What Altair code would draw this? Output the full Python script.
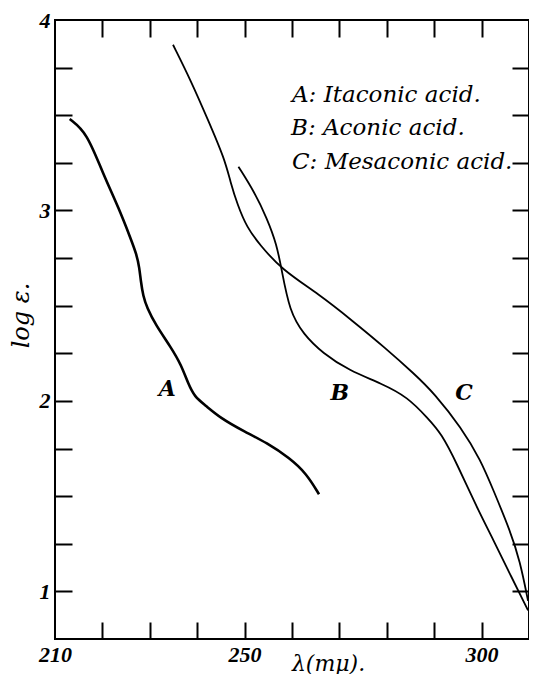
import altair as alt
import pandas as pd

# Curve A: Itaconic acid
A_x = [213.1, 216.7, 220.0, 223.5, 226.0, 227.2, 227.8, 228.1, 228.6, 229.4, 231.2, 234.5,
       236.6, 238.1, 239.5, 241.6, 244.9, 249.9, 254.7, 259.5, 263.0, 265.7]
A_y = [3.48, 3.41, 3.20, 3.01, 2.85, 2.77, 2.70, 2.63, 2.55, 2.49, 2.40, 2.28,
       2.19, 2.09, 2.02, 1.98, 1.91, 1.84, 1.78, 1.70, 1.62, 1.51]

# Curve B: Aconic acid
B_x = [248.7, 252.0, 254.7, 256.8, 257.8, 259.5, 262.4, 266.5, 272.0, 279.0,
       284.4, 288.6, 291.5, 294.8, 299.0, 302.5, 306.0, 309.8]
B_y = [3.23, 3.10, 2.96, 2.82, 2.69, 2.47, 2.35, 2.25, 2.16, 2.09,
       2.02, 1.91, 1.83, 1.67, 1.44, 1.27, 1.09, 0.90]

# Curve C: Mesaconic acid
C_x = [234.9, 238.7, 242.2, 245.8, 247.0, 248.5, 250.5, 253.2, 257.8, 265.7,
       272.8, 279.6, 285.9, 290.0, 295.7, 299.8, 302.5, 306.0, 308.1, 309.8]
C_y = [3.87, 3.68, 3.48, 3.27, 3.15, 3.03, 2.91, 2.82, 2.69, 2.56,
       2.42, 2.28, 2.14, 2.04, 1.86, 1.69, 1.53, 1.32, 1.16, 0.95]

series_names = ["A", "B", "C"]
legend_texts = ["A: Itaconic acid.", "B: Aconic acid.", "C: Mesaconic acid."]

x_label_values = [210, 250, 300]
x_tick_values = [220, 230, 240, 250, 260, 270, 280, 290, 300]
y_label_values = [1, 2, 3, 4]
y_tick_values = [1.0, 1.25, 1.5, 1.75, 2.0, 2.25, 2.5, 2.75, 3.0, 3.25, 3.5, 3.75]


def curve_frame(names, xs_list, ys_list):
    rows = []
    for name, xs_, ys_ in zip(names, xs_list, ys_list):
        for i, (a, b) in enumerate(zip(xs_, ys_)):
            rows.append({"series": name, "x": a, "y": b, "order": i})
    return pd.DataFrame(rows)


df_a = curve_frame(["A"], [A_x], [A_y])
df_bc = curve_frame(["B", "C"], [B_x, C_x], [B_y, C_y])
df_all = pd.concat([df_a, df_bc], ignore_index=True)

# annotation placement (data coordinates)
legend_df = pd.DataFrame({"label": legend_texts,
                          "x": [260.0, 259.8, 260.0],
                          "y": [3.571, 3.398, 3.220]})
curve_lbl_df = pd.DataFrame({"label": series_names,
                             "x": [233.7, 270.1, 296.3],
                             "y": [2.06, 2.04, 2.04]})

W, H = 474, 619
xsc = alt.Scale(domain=[210, 310], nice=False, zero=False)
ysc = alt.Scale(domain=[0.75, 4], nice=False, zero=False)

SERIF = "DejaVu Serif"
NUM = "Liberation Serif"

line_a = alt.Chart(df_a).mark_line(color="black", interpolate="basis", strokeWidth=2.6).encode(
    x=alt.X("x:Q", scale=xsc, axis=alt.Axis(
        orient="bottom", values=x_label_values, tickSize=0, domain=False, grid=False,
        labelFlush=False, labelFont=NUM, labelFontSize=22, labelFontStyle="italic",
        labelFontWeight="bold", labelColor="black", labelPadding=5,
        title="λ(mμ).", titleFont=SERIF, titleFontSize=22, titleFontStyle="italic",
        titleFontWeight="normal", titleColor="black", titleX=273, titleY=31,
        titleBaseline="alphabetic", titleAlign="center")),
    y=alt.Y("y:Q", scale=ysc, axis=alt.Axis(
        orient="left", values=y_label_values, tickSize=0, domain=False, grid=False,
        labelFont=NUM, labelFontSize=22, labelFontStyle="italic",
        labelFontWeight="bold", labelColor="black", labelPadding=5,
        title="log ε.", titleFont=SERIF, titleFontSize=24, titleFontStyle="italic",
        titleFontWeight="normal", titleColor="black", titleX=-34, titleY=295,
        titleAngle=270, titleAlign="center", titleBaseline="middle")),
    order="order:Q",
)

line_bc = alt.Chart(df_bc).mark_line(color="black", interpolate="basis", strokeWidth=1.8).encode(
    x=alt.X("x:Q", scale=xsc, axis=None),
    y=alt.Y("y:Q", scale=ysc, axis=None),
    detail="series:N",
    order="order:Q",
)

tick_style = dict(labels=False, domain=False, grid=False, tickSize=17, tickWidth=2,
                  tickColor="black", title=None)

ticks_in_a = alt.Chart(df_all).mark_point(opacity=0).encode(
    x=alt.X("x:Q", scale=xsc, axis=alt.Axis(orient="top", offset=-H, values=x_tick_values, **tick_style)),
    y=alt.Y("y:Q", scale=ysc, axis=alt.Axis(orient="right", offset=-W, values=y_tick_values, **tick_style)),
)
ticks_in_b = alt.Chart(df_all).mark_point(opacity=0).encode(
    x=alt.X("x:Q", scale=xsc, axis=alt.Axis(orient="bottom", offset=-H, values=x_tick_values, **tick_style)),
    y=alt.Y("y:Q", scale=ysc, axis=alt.Axis(orient="left", offset=-W, values=y_tick_values, **tick_style)),
)

legend = alt.Chart(legend_df).mark_text(
    align="left", baseline="alphabetic", font=SERIF, fontSize=23, fontStyle="italic", color="black"
).encode(
    x=alt.X("x:Q", scale=xsc, axis=None),
    y=alt.Y("y:Q", scale=ysc, axis=None),
    text="label:N",
)

curve_labels = alt.Chart(curve_lbl_df).mark_text(
    align="center", baseline="middle", font=SERIF, fontSize=22, fontStyle="italic",
    fontWeight="bold", color="black"
).encode(
    x=alt.X("x:Q", scale=xsc, axis=None),
    y=alt.Y("y:Q", scale=ysc, axis=None),
    text="label:N",
)

chart = alt.layer(line_a, line_bc, ticks_in_a, ticks_in_b, legend, curve_labels).resolve_axis(
    x="independent", y="independent"
).properties(
    width=W, height=H,
    autosize=alt.AutoSizeParams(type="none"),
    padding={"left": 47, "top": 12, "right": 0, "bottom": 35},
    background="white",
).configure_view(stroke="black", strokeWidth=2)

chart.save("out.html", embed_options={"renderer": "svg", "actions": False})
